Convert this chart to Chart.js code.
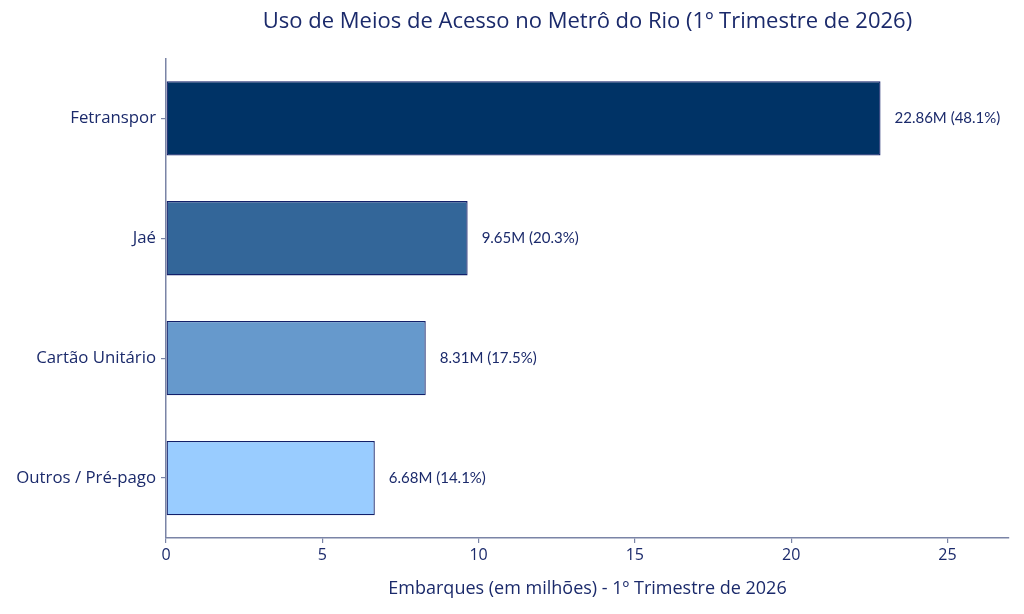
<!DOCTYPE html>
<html><head><meta charset="utf-8">
<script src="https://cdn.jsdelivr.net/npm/chart.js@4/dist/chart.umd.min.js"></script>
<style>html,body{margin:0;padding:0;background:#fff}#wrap{width:1024px;height:614px}</style>
</head><body><div id="wrap"><canvas id="c" width="1024" height="614"></canvas></div>
<script>
const categories = ["Fetranspor", "Jaé", "Cartão Unitário", "Outros / Pré-pago"];
const values = [22.86, 9.65, 8.31, 6.68];
const percents = [48.1, 20.3, 17.5, 14.1];
const barColors = ["#003366", "#336699", "#6699CC", "#99CCFF"];
const xTicks = [0, 5, 10, 15, 20, 25];

const navy = "#1b2a6b";
const axisCol = "#7a84a6";
const FONT = "'Open Sans', sans-serif";

const labelPlugin = {
  id: 'barLabels',
  afterDatasetsDraw(chart) {
    const ctx = chart.ctx;
    const meta = chart.getDatasetMeta(0);
    ctx.save();
    ctx.fillStyle = navy;
    ctx.font = "15px Lato, sans-serif";
    ctx.textBaseline = "middle";
    ctx.textAlign = "left";
    meta.data.forEach((bar, i) => {
      ctx.fillText(values[i].toFixed(2) + "M (" + percents[i].toFixed(1) + "%)", bar.x + 14, bar.y);
    });
    ctx.restore();
  }
};

new Chart(document.getElementById('c'), {
  type: 'bar',
  data: {
    labels: categories,
    datasets: [{
      data: values,
      backgroundColor: barColors,
      borderColor: "#12206a",
      borderWidth: 1.3,
      borderSkipped: false,
      barPercentage: 0.62,
      categoryPercentage: 1.0
    }]
  },
  options: {
    indexAxis: 'y',
    responsive: false,
    animation: false,
    layout: { padding: { left: 0, right: 15, top: 0, bottom: 0 } },
    plugins: {
      legend: { display: false },
      tooltip: { enabled: false },
      title: {
        display: true,
        text: "Uso de Meios de Acesso no Metrô do Rio (1º Trimestre de 2026)",
        color: navy,
        fullSize: false,
        font: { family: FONT, size: 22, weight: 'normal' },
        padding: { top: 9, bottom: 23 }
      }
    },
    scales: {
      x: {
        type: 'linear',
        min: 0,
        max: 26.97,
        afterBuildTicks(scale) { scale.ticks = xTicks.map(v => ({ value: v })); },
        grid: { display: true, drawOnChartArea: false, drawTicks: true, tickLength: 5, color: axisCol, lineWidth: 1.2 },
        border: { display: true, color: axisCol, width: 1.5 },
        ticks: { color: navy, font: { family: FONT, size: 16 }, padding: 3 },
        title: {
          display: true,
          text: "Embarques (em milhões) - 1º Trimestre de 2026",
          color: navy,
          font: { family: FONT, size: 18 },
          padding: { top: 8, bottom: 14 }
        },
        afterFit(scale) { scale.height = 76; }
      },
      y: {
        grid: { display: true, offset: false, drawOnChartArea: false, drawTicks: true, tickLength: 5, color: axisCol, lineWidth: 1.2 },
        border: { display: true, color: axisCol, width: 1.5 },
        ticks: { color: navy, font: { family: FONT, size: 16.8 }, padding: 5 },
        afterFit(scale) { scale.width = 166; }
      }
    }
  },
  plugins: [labelPlugin]
});
</script>
</body></html>
